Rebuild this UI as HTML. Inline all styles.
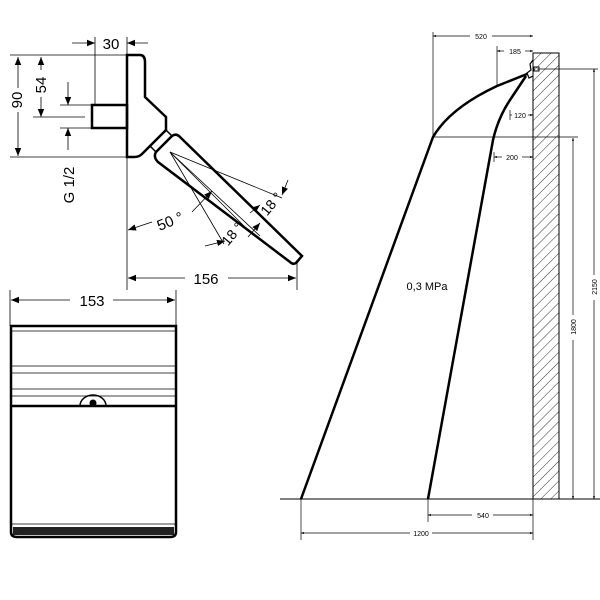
<!DOCTYPE html>
<html><head><meta charset="utf-8"><style>body{margin:0;background:#fff}svg{display:block}</style></head><body>
<svg width="600" height="600" viewBox="0 0 600 600" xmlns="http://www.w3.org/2000/svg" font-family="Liberation Sans, sans-serif">
<defs>
<marker id="a" viewBox="0 0 10 10" refX="10" refY="5" markerWidth="10" markerHeight="10" orient="auto-start-reverse"><path d="M0,1L10,5L0,9z" fill="#000"/></marker>
<marker id="s" viewBox="0 0 10 10" refX="10" refY="5" markerWidth="4" markerHeight="4" orient="auto-start-reverse"><path d="M0,1L10,5L0,9z" fill="#000"/></marker>
<pattern id="h" width="7" height="7" patternUnits="userSpaceOnUse" patternTransform="rotate(45)"><line x1="0" y1="0" x2="0" y2="7" stroke="#000" stroke-width="0.8"/></pattern>
</defs>
<g stroke="#000" fill="none">
<path d="M127,55 L140,55 Q145,55 145,62 L145,97 L166,117 L166,130 L142,154 Q139,157 134,157 L127,157 Z" stroke-width="2.5"/>
<rect x="92" y="105" width="35" height="23" stroke-width="2.5"/>
<path d="M150,146 L166,130 L172,136 L156,152 Z" stroke-width="1.5"/>
<path d="M172,136 Q176,133 180,137 L302,256 L296,263 Q293,265 290,262 L158,162 Q153,157 156,152 Z" stroke-width="2.5"/>
<g stroke-width="0.8">
<line x1="170" y1="152" x2="282" y2="198"/>
<line x1="170" y1="152" x2="260" y2="236"/>
<line x1="170" y1="152" x2="224" y2="244"/>
<line x1="170" y1="152" x2="244" y2="226"/>
<line x1="95" y1="37" x2="95" y2="105"/>
<line x1="127" y1="37" x2="127" y2="290"/>
<line x1="10" y1="55" x2="127" y2="55"/>
<line x1="10" y1="157" x2="127" y2="157"/>
<line x1="33" y1="117" x2="85" y2="117"/>
<line x1="60" y1="105" x2="92" y2="105"/>
<line x1="60" y1="128" x2="92" y2="128"/>
<line x1="297" y1="260" x2="297" y2="290"/>
<line x1="72" y1="43" x2="95" y2="43" marker-end="url(#a)"/>
<line x1="148" y1="43" x2="127" y2="43" marker-end="url(#a)"/>
<line x1="18" y1="57" x2="18" y2="88" marker-start="url(#a)"/>
<line x1="18" y1="112" x2="18" y2="156" marker-end="url(#a)"/>
<line x1="41" y1="57" x2="41" y2="70" marker-start="url(#a)"/>
<line x1="41" y1="97" x2="41" y2="117" marker-end="url(#a)"/>
<line x1="68" y1="82" x2="68" y2="105" marker-end="url(#a)"/>
<line x1="68" y1="150" x2="68" y2="128" marker-end="url(#a)"/>
<line x1="128" y1="278" x2="185" y2="278" marker-start="url(#a)"/>
<line x1="228" y1="278" x2="296" y2="278" marker-end="url(#a)"/>
<line x1="152" y1="222" x2="128" y2="230" marker-end="url(#a)"/>
<line x1="192" y1="212" x2="212" y2="191" marker-end="url(#a)"/>
<line x1="205" y1="246" x2="225" y2="241" marker-end="url(#a)"/>
<line x1="248" y1="237" x2="260" y2="223" marker-end="url(#a)"/>
<line x1="250" y1="213" x2="260" y2="205" marker-end="url(#a)"/>
<line x1="288" y1="180" x2="282" y2="195" marker-end="url(#a)"/>
</g>
<g stroke-width="0.8">
<line x1="10" y1="290" x2="10" y2="326"/><line x1="176" y1="290" x2="176" y2="326"/>
<line x1="11" y1="300" x2="70" y2="300" marker-start="url(#a)"/>
<line x1="113" y1="300" x2="175" y2="300" marker-end="url(#a)"/>
<line x1="12" y1="331" x2="175" y2="331"/>
<line x1="12" y1="366" x2="175" y2="366"/>
<line x1="12" y1="373" x2="175" y2="373"/>
<line x1="12" y1="389" x2="175" y2="389"/>
<line x1="12" y1="396" x2="175" y2="396"/>
<line x1="12" y1="524" x2="175" y2="524"/>
</g>
<path d="M11,326 L176,326 L176,532 Q176,537 170,537 L17,537 Q11,537 11,532 Z" stroke-width="2.5"/>
<line x1="11" y1="406" x2="176" y2="406" stroke-width="2.5"/>
<path d="M80,406 A13,11 0 0 1 106,406" stroke-width="1.5"/>
<circle cx="93" cy="403" r="3" fill="#000"/>
<rect x="13" y="527" width="161" height="8" fill="#222" stroke="none"/>
<rect x="533" y="53" width="26" height="446" fill="url(#h)" stroke-width="1"/>
<line x1="280" y1="499" x2="600" y2="499" stroke-width="1"/>
<path d="M527,74 L497,86 Q450,108 433,137 L301,499" stroke-width="2.5"/>
<path d="M526,76 L510,100 Q498,118 493,140 L428,499" stroke-width="2.5"/>
<path d="M533,60 L530,64 L531,70 L527,73 L529,78 L533,76" stroke-width="1.2"/>
<rect x="534" y="67" width="5" height="4" stroke-width="1"/>
<g stroke-width="0.7">
<line x1="433" y1="32" x2="433" y2="137"/>
<line x1="497" y1="46" x2="497" y2="86"/>
<line x1="510" y1="110" x2="510" y2="120"/>
<line x1="494" y1="152" x2="494" y2="162"/>
<line x1="433" y1="137" x2="578" y2="137"/>
<line x1="537" y1="69" x2="598" y2="69"/>
<line x1="301" y1="499" x2="301" y2="540"/>
<line x1="428" y1="499" x2="428" y2="522"/>
<line x1="533" y1="499" x2="533" y2="540"/>
<line x1="433" y1="36" x2="470" y2="36" marker-start="url(#s)"/>
<line x1="492" y1="36" x2="533" y2="36" marker-end="url(#s)"/>
<line x1="497" y1="51" x2="504" y2="51" marker-start="url(#s)"/>
<line x1="525" y1="51" x2="533" y2="51" marker-end="url(#s)"/>
<line x1="510" y1="115" x2="512" y2="115"/>
<line x1="528" y1="115" x2="533" y2="115" marker-end="url(#s)"/>
<line x1="494" y1="157" x2="502" y2="157" marker-start="url(#s)"/>
<line x1="522" y1="157" x2="533" y2="157" marker-end="url(#s)"/>
<line x1="573" y1="138" x2="573" y2="315" marker-start="url(#s)"/>
<line x1="573" y1="340" x2="573" y2="499" marker-end="url(#s)"/>
<line x1="594" y1="69" x2="594" y2="275" marker-start="url(#s)"/>
<line x1="594" y1="300" x2="594" y2="499" marker-end="url(#s)"/>
<line x1="428" y1="515" x2="472" y2="515" marker-start="url(#s)"/>
<line x1="493" y1="515" x2="533" y2="515" marker-end="url(#s)"/>
<line x1="301" y1="533" x2="410" y2="533" marker-start="url(#s)"/>
<line x1="432" y1="533" x2="533" y2="533" marker-end="url(#s)"/>
</g>
</g>
<g fill="#000">
<text x="111" y="49" font-size="15" text-anchor="middle">30</text>
<text transform="translate(22,100) rotate(-90)" font-size="15" text-anchor="middle">90</text>
<text transform="translate(46,85) rotate(-90)" font-size="15" text-anchor="middle">54</text>
<text transform="translate(74,185) rotate(-90)" font-size="15" text-anchor="middle">G 1/2</text>
<text x="206" y="284" font-size="15" text-anchor="middle">156</text>
<text x="92" y="306" font-size="15" text-anchor="middle">153</text>
<text transform="translate(172,226) rotate(-22)" font-size="15" text-anchor="middle">50 °</text>
<text transform="translate(236,237) rotate(-50)" font-size="14" text-anchor="middle">18 °</text>
<text transform="translate(275,207) rotate(-50)" font-size="14" text-anchor="middle">18 °</text>
<text x="427" y="290" font-size="11" text-anchor="middle">0,3 MPa</text>
<g font-size="7" text-anchor="middle">
<text x="481" y="39">520</text>
<text x="515" y="54">185</text>
<text x="520" y="118">120</text>
<text x="512" y="160">200</text>
<text x="483" y="518">540</text>
<text x="421" y="536">1200</text>
<text transform="translate(576,327) rotate(-90)">1800</text>
<text transform="translate(597,287) rotate(-90)">2150</text>
</g>
</g>
</svg>
</body></html>
